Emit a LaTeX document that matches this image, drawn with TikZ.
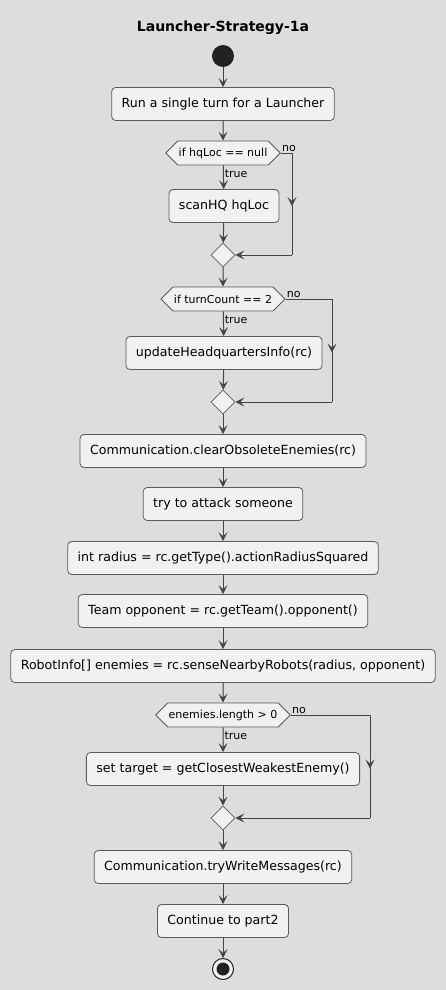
\documentclass[tikz,border=0pt]{standalone}
\usepackage{fontspec}
\setmainfont{DejaVu Sans}
\usetikzlibrary{shapes.geometric, shapes.symbols, arrows.meta, calc}
\definecolor{bgray}{HTML}{DDDDDD}
\definecolor{boxfill}{HTML}{F1F1F1}
\definecolor{boxline}{HTML}{5A5A5A}
\definecolor{arrowgray}{HTML}{444444}
\definecolor{dotblack}{HTML}{222222}
\tikzset{
  block/.style = {draw=boxline, fill=boxfill, rounded corners=4pt, line width=0.8pt,
                  font=\fontsize{12.6}{14}\selectfont, minimum height=33pt, inner xsep=10pt},
  cond/.style  = {draw=boxline, fill=boxfill, line width=0.8pt, signal, signal to=west and east,
                  signal pointer angle=90, minimum height=24pt, inner xsep=1pt,
                  font=\fontsize{11}{13}\selectfont},
  merge/.style = {draw=boxline, fill=boxfill, line width=0.8pt, diamond, minimum size=24pt, inner sep=0pt},
  flow/.style  = {-{Stealth[length=9pt, width=9pt, inset=4pt]}, draw=arrowgray, fill=arrowgray, line width=1pt},
  line/.style  = {draw=arrowgray, line width=1pt},
  lbl/.style   = {font=\fontsize{11}{13}\selectfont, inner sep=1pt}
}
\begin{document}
\begin{tikzpicture}[x=1pt, y=-1pt]
\fill[bgray] (0,0) rectangle (446,990);
\useasboundingbox (0,0) rectangle (446,990);

\node[font=\fontsize{14}{16}\selectfont\bfseries] at (223,28) (title) {Launcher-Strategy-1a};

\node[circle, fill=dotblack, minimum size=22pt, inner sep=0pt] at (223,56) (start) {};
\node[block] at (223,104) (run)    {Run a single turn for a Launcher};
\node[cond]  at (223,153) (ifhq)   {if hqLoc == null};
\node[block] at (224,206) (scan)   {scanHQ hqLoc};
\node[merge] at (223,255) (mhq)    {};
\node[cond]  at (223,299) (ifturn) {if turnCount == 2};
\node[block] at (224,353) (update) {updateHeadquartersInfo(rc)};
\node[merge] at (223,402) (mturn)  {};
\node[block] at (223,451) (clear)  {Communication.clearObsoleteEnemies(rc)};
\node[block] at (223,504) (attack) {try to attack someone};
\node[block] at (223,558) (radius) {int radius = rc.getType().actionRadiusSquared};
\node[block] at (223,611) (team)   {Team opponent = rc.getTeam().opponent()};
\node[block] at (223,666) (sense)  {RobotInfo[] enemies = rc.senseNearbyRobots(radius, opponent)};
\node[cond]  at (223,715) (ifen)   {enemies.length > 0};
\node[block] at (223,769) (target) {set target = getClosestWeakestEnemy()};
\node[merge] at (223,818) (men)    {};
\node[block] at (223,867) (write)  {Communication.tryWriteMessages(rc)};
\node[block] at (223,921) (cont)   {Continue to part2};
\node[circle, draw=dotblack, fill=boxfill, line width=1pt, minimum size=21pt, inner sep=0pt] at (223,969) (stop) {};
\fill[dotblack] (stop.center) circle (6.5pt);

% main line
\draw[flow] (start) -- (run);
\draw[flow] (run) -- (ifhq);
\draw[flow] (ifhq) -- node[lbl, right, pos=0.35] {true} (scan);
\draw[flow] (scan) -- (mhq);
\draw[flow] (mhq) -- (ifturn);
\draw[flow] (ifturn) -- node[lbl, right, pos=0.35] {true} (update);
\draw[flow] (update) -- (mturn);
\draw[flow] (mturn) -- (clear);
\draw[flow] (clear) -- (attack);
\draw[flow] (attack) -- (radius);
\draw[flow] (radius) -- (team);
\draw[flow] (team) -- (sense);
\draw[flow] (sense) -- (ifen);
\draw[flow] (ifen) -- node[lbl, right, pos=0.35] {true} (target);
\draw[flow] (target) -- (men);
\draw[flow] (men) -- (write);
\draw[flow] (write) -- (cont);
\draw[flow] (cont) -- (stop);

% "no" branches
\coordinate (nohq1) at (292,153);
\coordinate (nohq2) at (292,255);
\draw[line] (ifhq.east) -- (nohq1) -- (nohq2);
\draw[flow] (nohq2) -- (mhq.east);
\draw[flow] (nohq1) -- ($(nohq1)!0.52!(nohq2)$);
\node[lbl, anchor=south west] at (ifhq.east) (nohqlbl) {no};

\coordinate (noturn1) at (332,299);
\coordinate (noturn2) at (332,402);
\draw[line] (ifturn.east) -- (noturn1) -- (noturn2);
\draw[flow] (noturn2) -- (mturn.east);
\draw[flow] (noturn1) -- ($(noturn1)!0.52!(noturn2)$);
\node[lbl, anchor=south west] at (ifturn.east) (noturnlbl) {no};

\coordinate (noen1) at (370,715);
\coordinate (noen2) at (370,818);
\draw[line] (ifen.east) -- (noen1) -- (noen2);
\draw[flow] (noen2) -- (men.east);
\draw[flow] (noen1) -- ($(noen1)!0.52!(noen2)$);
\node[lbl, anchor=south west] at (ifen.east) (noenlbl) {no};
\end{tikzpicture}
\end{document}
